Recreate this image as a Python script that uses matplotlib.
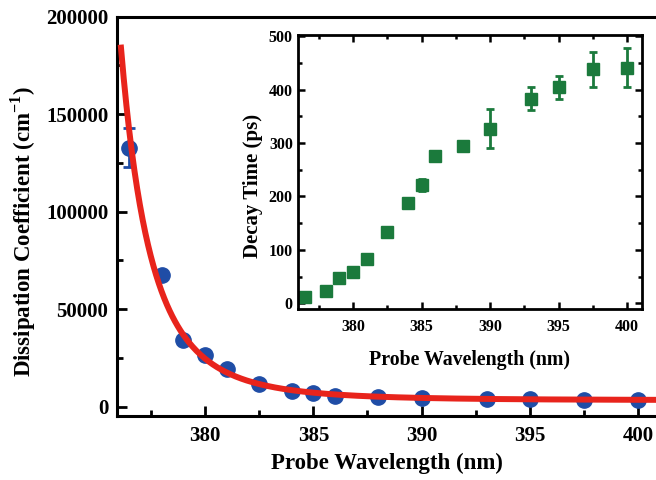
import numpy as np
import matplotlib
matplotlib.use("Agg")
import matplotlib.pyplot as plt

plt.rcParams['font.family'] = ['Liberation Serif', 'DejaVu Serif']
plt.rcParams['font.weight'] = 'bold'
plt.rcParams['mathtext.fontset'] = 'custom'
plt.rcParams['mathtext.rm'] = 'Liberation Serif:bold'
plt.rcParams['mathtext.bf'] = 'Liberation Serif:bold'

# main panel: dissipation coefficient
wl = [376.5, 378, 379, 380, 381, 382.5, 384, 385, 386, 388, 390, 393, 395, 397.5, 400]
diss = [132700, 67400, 34100, 26600, 19100, 11600, 8200, 7000, 5500, 5100, 4400, 4100, 3700, 3600, 3600]
diss_err = [10000, 1200, 1500, 1200, 1200, 1200, 1200, 1200, 1200, 1200, 1000, 1000, 1000, 1000, 1000]

# inset: decay time
wl_in = [376.5, 378, 379, 380, 381, 382.5, 384, 385, 386, 388, 390, 393, 395, 397.5, 400]
decay = [12, 24, 47, 59, 83, 133, 188, 222, 276, 294, 327, 383, 404, 438, 441]
decay_err = [5, 5, 6, 6, 6, 6, 6, 11, 8, 6, 36, 21, 22, 33, 36]

blue = '#1f4da6'
red = '#e8241c'
green = '#1b7a3c'

# fit y = A/(x-x0)^n + c to the measured points
x = np.array(wl)
y = np.array(diss, dtype=float)
best = None
for x0 in np.arange(370.0, 376.4, 0.02):
    for n in np.arange(0.3, 4.0, 0.02):
        M = np.column_stack([1.0 / (x - x0) ** n, np.ones_like(x)])
        coef, *_ = np.linalg.lstsq(M / y[:, None], np.ones_like(y), rcond=None)
        r = np.sum((M @ coef / y - 1) ** 2)
        if best is None or r < best[0]:
            best = (r, x0, n, coef)
_, x0, n, coef = best
xf = np.linspace(376.12, 401.0, 400)
yf = coef[0] / (xf - x0) ** n + coef[1]

fig = plt.figure(figsize=(6.56, 4.8), dpi=100)
ax = fig.add_axes([0.1788, 0.1339, 0.8212, 0.8317])
ax.errorbar(wl, diss, yerr=diss_err, fmt='o', color=blue, ms=11, elinewidth=2,
            capsize=4, capthick=2, zorder=2)
ax.plot(xf, yf, color=red, lw=4.3, zorder=3)
ax.set_xlim(375.95, 400.82)
ax.set_ylim(-4700, 200000)
ax.set_xticks([380, 385, 390, 395, 400])
ax.set_xticks([377.5, 382.5, 387.5, 392.5, 397.5], minor=True)
ax.set_yticks([0, 50000, 100000, 150000, 200000])
ax.set_yticks([25000, 75000, 125000, 175000], minor=True)
ax.spines['right'].set_visible(False)
for s in ['left', 'bottom', 'top']:
    ax.spines[s].set_linewidth(2.2)
ax.tick_params(which='both', direction='in', labelsize=15, width=2, top=False, right=False)
ax.tick_params(which='major', length=7)
ax.tick_params(which='minor', length=4)
ax.tick_params(axis='x', pad=7.5)
ax.tick_params(axis='y', pad=6.5)
ax.set_xlabel('Probe Wavelength (nm)', fontsize=16.5, fontweight='bold', labelpad=5)
ax.set_ylabel(r'Dissipation Coefficient (cm$^{\mathbf{-1}}$)', fontsize=16.5, fontweight='bold')
ax.yaxis.set_label_coords(-0.1467, 0.46)

ins = fig.add_axes([0.4538, 0.3556, 0.5244, 0.5715])
ins.errorbar(wl_in, decay, yerr=decay_err, fmt='s', color=green, ms=9, elinewidth=2,
             capsize=3, capthick=2)
ins.set_xlim(375.95, 401.06)
ins.set_ylim(-11, 502)
ins.set_xticks([380, 385, 390, 395, 400])
ins.set_xticks([377.5, 382.5, 387.5, 392.5, 397.5], minor=True)
ins.set_yticks([0, 100, 200, 300, 400, 500])
ins.set_yticks([50, 150, 250, 350, 450], minor=True)
for s in ins.spines.values():
    s.set_linewidth(2)
ins.tick_params(which='both', direction='in', labelsize=11.5, width=1.8, top=True, right=True)
ins.tick_params(which='major', length=5)
ins.tick_params(which='minor', length=3)
ins.tick_params(axis='x', pad=7)
ins.set_xlabel('Probe Wavelength (nm)', fontsize=14.3, fontweight='bold', labelpad=11)
ins.set_ylabel('Decay Time (ps)', fontsize=15, fontweight='bold')
ins.yaxis.set_label_coords(-0.102, 0.45)

fig.savefig('out.png', dpi=100)
